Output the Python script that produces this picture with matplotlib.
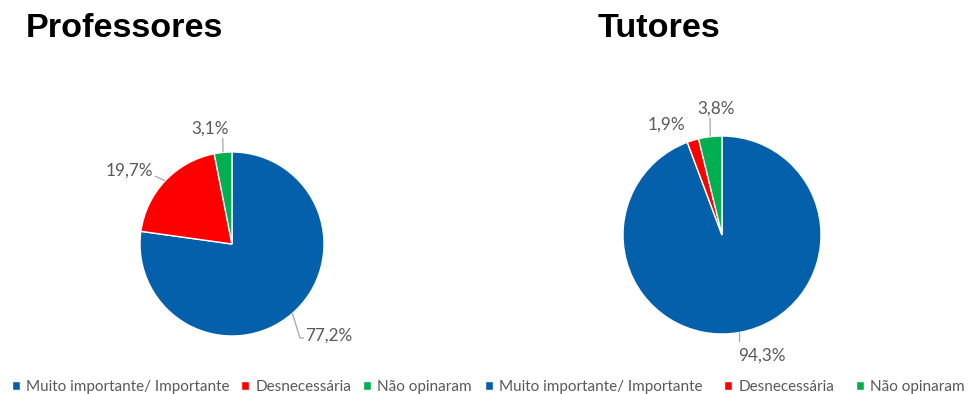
import matplotlib.pyplot as plt
from matplotlib.legend import Legend
import numpy as np

# Data
categorias = ["Muito importante/ Importante", "Desnecessária", "Não opinaram"]
professores = [77.2, 19.7, 3.1]
tutores = [94.3, 1.9, 3.8]
cores = ["#0460AB", "#FF0000", "#00B050"]

W, H = 971, 394
fig = plt.figure(figsize=(W / 100, H / 100), dpi=100)
ax = fig.add_axes([0, 0, 1, 1])

LABEL_FONT = "Lato"
LABEL_COLOR = "#595959"
LEADER_COLOR = "#A6A6A6"


def Y(y):
    """Convert a top-down pixel row into the axes' bottom-up data units."""
    return H - y


def fmt(v):
    return f"{v:.1f}".replace(".", ",") + "%"


def draw_pie(values, cx, cy, r, labels):
    wedges, _ = ax.pie(
        values, colors=cores, startangle=90, counterclock=False,
        center=(cx, Y(cy)), radius=r,
        wedgeprops=dict(edgecolor="white", linewidth=1.0),
    )
    for w, v, spec in zip(wedges, values, labels):
        tx, ty, ha, path = spec
        mid = np.deg2rad((w.theta1 + w.theta2) / 2)
        ex = cx + r * np.cos(mid)
        ey = Y(cy) + r * np.sin(mid)
        if path is not None:
            xs = [ex] + [p[0] for p in path]
            ys = [ey] + [Y(p[1]) for p in path]
            ax.plot(xs, ys, color=LEADER_COLOR, lw=0.9, solid_capstyle="butt")
        ax.text(tx, Y(ty), fmt(v), ha=ha, va="center", fontsize=12.3,
                family=LABEL_FONT, color=LABEL_COLOR)
    return wedges


# Professores
w1 = draw_pie(professores, 232, 244, 92, [
    (305, 336, "left", [(300, 338), (304, 338)]),
    (153, 171, "right", [(155, 176)]),
    (210.5, 129, "center", [(222.7, 138)]),
])

# Tutores
w2 = draw_pie(tutores, 722, 235, 99, [
    (738, 356, "left", [(739.5, 342)]),
    (666, 125, "center", None),
    (716, 108.5, "center", [(710, 118)]),
])

ax.set_xlim(0, W)
ax.set_ylim(0, H)
ax.set_aspect("auto")
ax.axis("off")

# Titles
ax.text(26, Y(37), "Professores", ha="left", va="baseline", fontsize=24.6,
        fontweight="bold", family="Liberation Sans", color="black")
ax.text(598, Y(37), "Tutores", ha="left", va="baseline", fontsize=24.6,
        fontweight="bold", family="Liberation Sans", color="black")


# Legends under each pie
def add_legend(handles, x, size, colsp):
    leg = Legend(ax, handles, categorias, ncol=3, frameon=False,
                 loc="center left", bbox_to_anchor=(x, Y(387)),
                 bbox_transform=ax.transData,
                 handlelength=0.5, handleheight=0.5, handletextpad=0.4,
                 columnspacing=colsp, borderpad=0, borderaxespad=0,
                 prop=dict(family=LABEL_FONT, size=size, weight="normal"))
    for t in leg.get_texts():
        t.set_color(LABEL_COLOR)
    ax.add_artist(leg)
    return leg


add_legend(w1, 12, 11, 0.8)
add_legend(w2, 485, 11, 1.45)

fig.savefig("out.png", dpi=100, facecolor="white")
